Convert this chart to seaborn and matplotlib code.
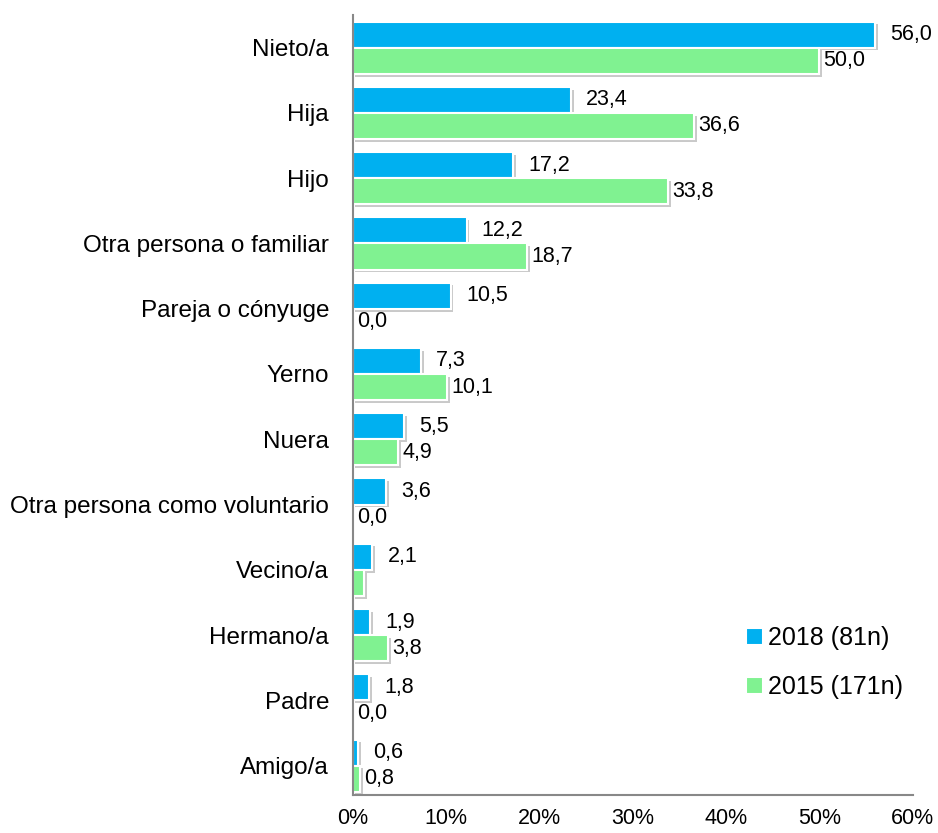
import matplotlib
matplotlib.use("Agg")
import matplotlib.pyplot as plt
import matplotlib.patheffects as pe
import pandas as pd
import seaborn as sns

categorias = ["Nieto/a", "Hija", "Hijo", "Otra persona o familiar", "Pareja o cónyuge",
              "Yerno", "Nuera", "Otra persona como voluntario", "Vecino/a",
              "Hermano/a", "Padre", "Amigo/a"]
valores_2018 = [56.0, 23.4, 17.2, 12.2, 10.5, 7.3, 5.5, 3.6, 2.1, 1.9, 1.8, 0.6]
valores_2015 = [50.0, 36.6, 33.8, 18.7, 0.0, 10.1, 4.9, 0.0, 1.2, 3.8, 0.0, 0.8]
series = ["2018 (81n)", "2015 (171n)"]
colores = ["#00B0F0", "#80F291"]
# la barra de Vecino/a 2015 no lleva etiqueta en el original
sin_etiqueta_2015 = {"Vecino/a"}

sns.set_style("white")
plt.rcParams["font.family"] = ["Liberation Sans", "DejaVu Sans"]
plt.rcParams["text.color"] = "black"
plt.rcParams["xtick.labelcolor"] = "black"
plt.rcParams["ytick.labelcolor"] = "black"

df = pd.DataFrame({
    "categoria": categorias * 2,
    "valor": valores_2018 + valores_2015,
    "serie": [series[0]] * len(categorias) + [series[1]] * len(categorias),
})

fig, ax = plt.subplots(figsize=(9.38, 8.33), dpi=100)
fig.subplots_adjust(left=0.376, right=0.973, top=0.982, bottom=0.0456)

sns.barplot(data=df, y="categoria", x="valor", hue="serie", order=categorias,
            hue_order=series, palette=colores, saturation=1, orient="h", width=0.8,
            edgecolor="white", linewidth=1.5, ax=ax)

sombra = [pe.SimplePatchShadow(offset=(2, -2), shadow_rgbFace="#888888", alpha=0.45),
          pe.Normal()]
for cont in ax.containers:
    for barra in cont:
        barra.set_path_effects(sombra)

fmt = lambda v: f"{v:.1f}".replace(".", ",")
etiquetas_2018 = [fmt(v) for v in valores_2018]
etiquetas_2015 = ["" if c in sin_etiqueta_2015 else fmt(v)
                  for c, v in zip(categorias, valores_2015)]
ax.bar_label(ax.containers[0], labels=etiquetas_2018, padding=11, fontsize=15.5)
ax.bar_label(ax.containers[1], labels=etiquetas_2015, padding=3, fontsize=15.5)

ax.set_xlim(0, 60)
ax.set_ylim(11.45, -0.5)
ax.set_xticks(range(0, 61, 10))
ax.set_xticklabels([f"{t}%" for t in range(0, 61, 10)], fontsize=15.5)
ax.tick_params(axis="x", direction="out", length=6, width=1.2, color="#888888", pad=3)
ax.tick_params(axis="y", length=0, labelsize=17.5, pad=17)
ax.set_xlabel("")
ax.set_ylabel("")
sns.despine(ax=ax)
for lado in ["left", "bottom"]:
    ax.spines[lado].set_color("#888888")
    ax.spines[lado].set_linewidth(1.5)

leg = ax.legend(loc="upper left", bbox_to_anchor=(0.663, 0.245), frameon=False,
                fontsize=18, handlelength=0.65, handleheight=0.65, handletextpad=0.2,
                labelspacing=1.0)

fig.savefig("out.png", dpi=100)
